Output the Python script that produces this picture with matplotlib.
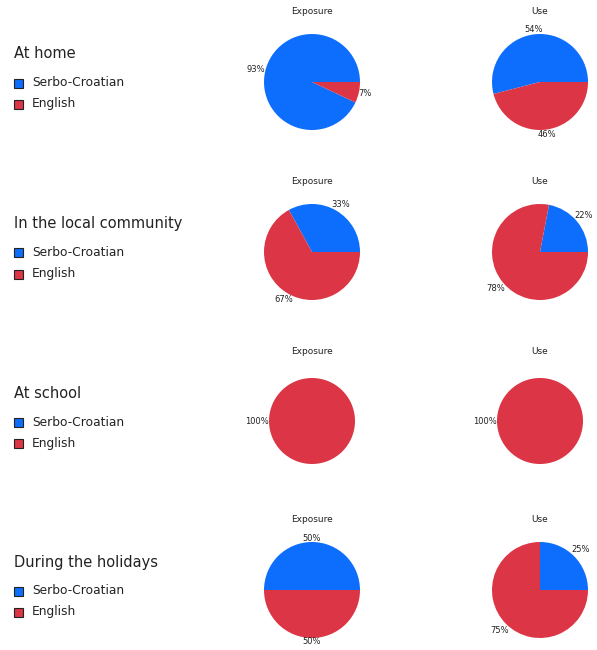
import numpy as np
import matplotlib
matplotlib.use("Agg")
import matplotlib.pyplot as plt
from matplotlib.patches import Rectangle

# Share of each language per context (percent)
sections = ["At home", "In the local community", "At school", "During the holidays"]
languages = ["Serbo-Croatian", "English"]
exposure_sc = [93, 33, 0, 50]
exposure_en = [7, 67, 100, 50]
use_sc = [54, 22, 0, 25]
use_en = [46, 78, 100, 75]
panel_titles = ["Exposure", "Use"]

colors = ["#0d6efd", "#dc3545"]
text_color = "#222222"

W, H = 597, 650
fig = plt.figure(figsize=(W / 100, H / 100), dpi=100)

row_cy = [82, 252, 421, 590]
col_cx = [312, 540]
radii = [48, 48, 43, 48]
half_box = 62  # half size of each pie axes, px


def fx(px):
    return px / W


def fy(py):
    return 1 - py / H


def draw_pie(cx, cy, r, values, title):
    ax = fig.add_axes([fx(cx - half_box), fy(cy + half_box),
                       2 * half_box / W, 2 * half_box / H])
    lim = half_box / r
    vals = [v for v in values if v > 0]
    cols = [c for v, c in zip(values, colors) if v > 0]
    wedges, _ = ax.pie(vals, colors=cols, startangle=0, counterclock=True,
                       radius=1.0, wedgeprops=dict(linewidth=0))
    ax.set_xlim(-lim, lim)
    ax.set_ylim(-lim, lim)
    ax.set_aspect("equal")
    ax.axis("off")
    # percentage labels just outside each wedge
    for w, v in zip(wedges, vals):
        ang = np.deg2rad((w.theta1 + w.theta2) / 2)
        label = f"{v}%"
        hw = 3.0 * len(label) / r
        hh = 3.5 / r
        d = 1.0 + hw * abs(np.cos(ang)) + hh * abs(np.sin(ang))
        ax.text(d * np.cos(ang), d * np.sin(ang), label, ha="center",
                va="center", fontsize=6, color=text_color, clip_on=False)
    fig.text(fx(cx), fy(cy - 70), title, ha="center", va="center",
             fontsize=6.5, color=text_color)


exposure = list(zip(exposure_sc, exposure_en))
use = list(zip(use_sc, use_en))

for i, name in enumerate(sections):
    cy = row_cy[i]
    draw_pie(col_cx[0], cy, radii[i], exposure[i], panel_titles[0])
    draw_pie(col_cx[1], cy, radii[i], use[i], panel_titles[1])

    # row heading and legend
    fig.text(fx(14), fy(cy - 28), name, ha="left", va="center",
             fontsize=10.5, color=text_color)
    for j, lang in enumerate(languages):
        ly = cy + 1 + 21 * j
        fig.patches.append(Rectangle((fx(14), fy(ly + 4.5)), 9 / W, 9 / H,
                                     transform=fig.transFigure,
                                     facecolor=colors[j], edgecolor="#222222",
                                     linewidth=0.8))
        fig.text(fx(32), fy(ly), lang, ha="left", va="center",
                 fontsize=8.8, color=text_color)

fig.savefig("out.png", dpi=100)
